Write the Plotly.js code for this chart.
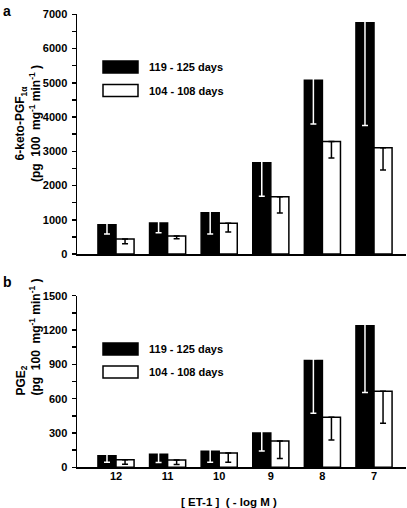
<!DOCTYPE html>
<html>
<head>
<meta charset="utf-8">
<script src="https://cdn.plot.ly/plotly-3.0.1.min.js"></script>
<style>
html,body{margin:0;padding:0;background:#fff;}
#chart{width:407px;height:508px;}
</style>
</head>
<body>
<div id="chart"></div>
<script>
// ---- data ----
const categories = ['12', '11', '10', '9', '8', '7'];
const seriesNames = ['119 - 125 days', '104 - 108 days'];

// panel a: 6-keto-PGF1alpha (pg 100 mg-1 min-1)
const ketoOld = [855, 904, 1208, 2666, 5076, 6750];
const ketoOldErr = [272, 282, 622, 982, 1283, 2995];
const ketoYoung = [437, 525, 896, 1674, 3287, 3104];
const ketoYoungErr = [137, 78, 253, 476, 486, 651];

// panel b: PGE2 (pg 100 mg-1 min-1)
const pgeOld = [102, 114, 140, 300, 933, 1238];
const pgeOldErr = [58, 72, 96, 157, 460, 585];
const pgeYoung = [66, 64, 125, 230, 437, 664];
const pgeYoungErr = [40, 40, 81, 154, 198, 280];

const ketoTicks = [0, 1000, 2000, 3000, 4000, 5000, 6000, 7000];
const pgeTicks = [0, 300, 600, 900, 1200, 1500];

// ---- helpers ----
const W = 407, H = 508;
const px = x => x / W;
const py = y => 1 - y / H;
const FONT = 'Liberation Sans, Arial, Helvetica, sans-serif';

// panel pixel geometry
const topPanel = {y0: 254, y1: 14.3, max: 7000};
const botPanel = {y0: 467.3, y1: 295.7, max: 1500};

// white error lines on black bars: lift the (invisible, white-on-white) hat 2px above the bar top
function hatLift(panel) { return 2 * panel.max / (panel.y0 - panel.y1); }

function barTrace(vals, errs, fill, errColor, xa, ya, name, lift) {
  return {
    type: 'bar', x: categories, y: vals, name: name,
    xaxis: xa, yaxis: ya, showlegend: false,
    marker: {color: fill, line: {color: '#000', width: 1.5}},
    error_y: {type: 'data', symmetric: false, array: vals.map(() => lift), arrayminus: errs,
              color: errColor, thickness: 1.5, width: 3},
    hoverinfo: 'skip'
  };
}

const data = [
  barTrace(ketoOld, ketoOldErr, '#000', '#fff', 'x', 'y', seriesNames[0], hatLift(topPanel)),
  barTrace(ketoYoung, ketoYoungErr, '#fff', '#000', 'x', 'y', seriesNames[1], 0),
  barTrace(pgeOld, pgeOldErr, '#000', '#fff', 'x2', 'y2', seriesNames[0], hatLift(botPanel)),
  barTrace(pgeYoung, pgeYoungErr, '#fff', '#000', 'x2', 'y2', seriesNames[1], 0)
];

const tickFont = {family: FONT, size: 11, color: '#000', weight: 'bold'};
const xRange = [-0.756, 5.62];

function yAxis(panel, ticks, minorStep, anchor) {
  return {
    domain: [py(panel.y0), py(panel.y1)], range: [0, panel.max], anchor: anchor,
    tickmode: 'array', tickvals: ticks, ticktext: ticks.map(String),
    ticks: 'outside', ticklen: 4, tickwidth: 1.5, tickcolor: '#000',
    minor: {dtick: minorStep, ticks: 'outside', ticklen: 4, tickwidth: 1.5, tickcolor: '#000', showgrid: false},
    showline: true, linecolor: '#000', linewidth: 1.5,
    showgrid: false, zeroline: false, tickfont: tickFont, ticklabelstandoff: 2,
    fixedrange: true
  };
}

const xDomain = [px(77), px(406)];

const layout = {
  width: W, height: H,
  margin: {l: 0, r: 0, t: 0, b: 0},
  paper_bgcolor: '#fff', plot_bgcolor: 'rgba(0,0,0,0)',
  barmode: 'group', bargap: 0.3, bargroupgap: 0,
  showlegend: false,
  font: {family: FONT, color: '#000'},
  xaxis: {domain: xDomain, range: xRange, anchor: 'y', type: 'category',
          showline: true, linecolor: '#000', linewidth: 1.5,
          showticklabels: false, ticks: '', showgrid: false, zeroline: false, fixedrange: true},
  yaxis: yAxis(topPanel, ketoTicks, 500, 'x'),
  xaxis2: {domain: xDomain, range: xRange, anchor: 'y2', type: 'category',
           showline: true, linecolor: '#000', linewidth: 1.5, ticklabelstandoff: -2,
           ticks: '', showgrid: false, zeroline: false, tickfont: tickFont, fixedrange: true},
  yaxis2: yAxis(botPanel, pgeTicks, 150, 'x2'),
  shapes: [],
  annotations: []
};

// legends drawn as boxes + text (same for both panels)
function addLegend(yBlack, yWhite) {
  const boxH = 12;
  layout.shapes.push({type: 'rect', xref: 'paper', yref: 'paper',
    x0: px(103), x1: px(138), y0: py(yBlack + boxH / 2), y1: py(yBlack - boxH / 2),
    fillcolor: '#000', line: {color: '#000', width: 1.5}});
  layout.shapes.push({type: 'rect', xref: 'paper', yref: 'paper',
    x0: px(103), x1: px(138), y0: py(yWhite + boxH / 2), y1: py(yWhite - boxH / 2),
    fillcolor: '#fff', line: {color: '#000', width: 1.5}});
  [[yBlack, seriesNames[0]], [yWhite, seriesNames[1]]].forEach(([yy, t]) => {
    layout.annotations.push({xref: 'paper', yref: 'paper', x: px(147), y: py(yy),
      xanchor: 'left', yanchor: 'middle', showarrow: false, text: t,
      font: {family: FONT, size: 11, color: '#000', weight: 'bold'}});
  });
}
addLegend(67, 90.5);
addLegend(349, 372);

const titleFont = {family: FONT, size: 12, color: '#000', weight: 'bold'};
// panel letters
layout.annotations.push({xref: 'paper', yref: 'paper', x: px(1), y: py(1), xanchor: 'left', yanchor: 'top',
  showarrow: false, text: 'a', font: {family: FONT, size: 14, color: '#000', weight: 'bold'}});
layout.annotations.push({xref: 'paper', yref: 'paper', x: px(1), y: py(272), xanchor: 'left', yanchor: 'top',
  showarrow: false, text: 'b', font: {family: FONT, size: 14, color: '#000', weight: 'bold'}});

// y-axis titles
layout.annotations.push({xref: 'paper', yref: 'paper', x: px(28), y: py(124), xanchor: 'center', yanchor: 'middle',
  textangle: -90, showarrow: false, align: 'center',
  text: '6-keto-PGF<sub>1\u03b1</sub><br>(pg\u00a0\u00a0100\u00a0\u00a0mg<sup>-1</sup>\u00a0min<sup>-1</sup>\u00a0)',
  font: titleFont});
layout.annotations.push({xref: 'paper', yref: 'paper', x: px(28), y: py(398), xanchor: 'center', yanchor: 'bottom',
  textangle: -90, showarrow: false, align: 'left',
  text: 'PGE<sub>2</sub><br>(pg\u00a0\u00a0100\u00a0\u00a0mg<sup>-1</sup>\u00a0min<sup>-1</sup>\u00a0)',
  font: titleFont});

// x-axis title
layout.annotations.push({xref: 'paper', yref: 'paper', x: px(229), y: py(502), xanchor: 'center', yanchor: 'middle',
  showarrow: false, text: '[\u00a0ET-1\u00a0]\u00a0\u00a0(\u00a0-\u00a0log\u00a0M\u00a0)',
  font: {family: FONT, size: 11.5, color: '#000', weight: 'bold'}});

Plotly.newPlot('chart', data, layout, {displayModeBar: false, staticPlot: true});
</script>
</body>
</html>
